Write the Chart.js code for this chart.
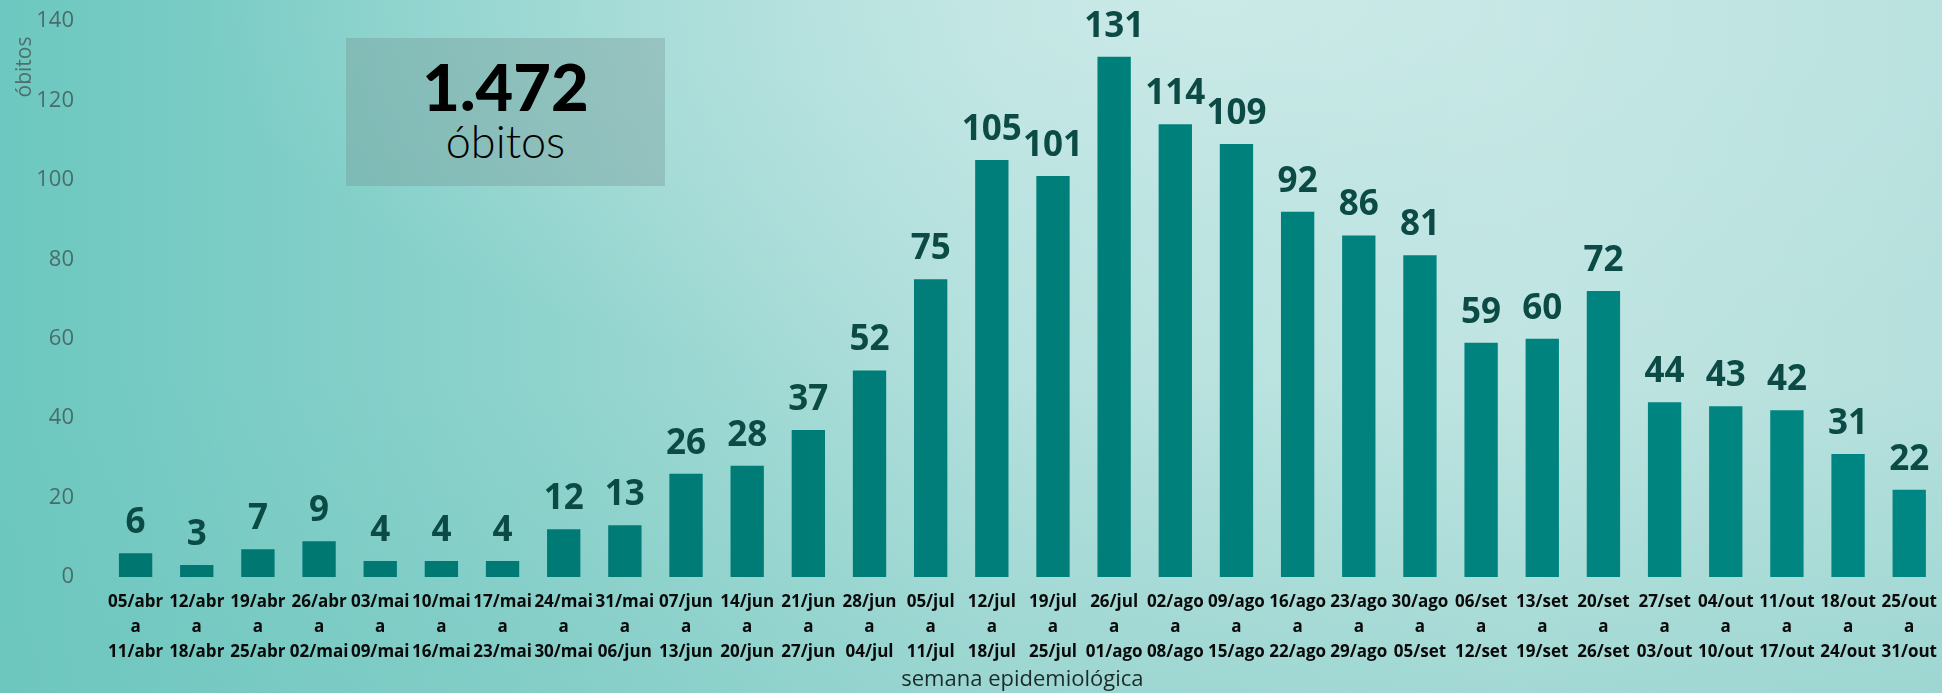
<!DOCTYPE html>
<html>
<head>
<meta charset="utf-8">
<script src="https://cdn.jsdelivr.net/npm/chart.js@4.4.1/dist/chart.umd.min.js"></script>
<style>
  html, body { margin: 0; padding: 0; }
  body {
    width: 1942px; height: 693px; overflow: hidden; position: relative;
    background:
      radial-gradient(ellipse 1000px 420px at 62% 0%, rgba(210,237,235,0.7) 0%, rgba(200,233,231,0.4) 50%, rgba(200,233,231,0) 100%),
      linear-gradient(180deg, rgba(120,200,192,0) 55%, rgba(110,196,188,0.35) 100%),
      linear-gradient(90deg, #6cc8c0 0%, #8fd3cd 28%, #b4e0dd 52%, #bfe4e1 78%, #b6e0dd 100%);
  }
  #wrap { position: absolute; left: 0; top: 0; width: 1942px; height: 693px; }
  #total {
    position: absolute; left: 346px; top: 38px; width: 319px; height: 148px;
    background: rgba(110, 135, 135, 0.3);
    text-align: center; color: #000;
  }
  #total .num { font-family: Lato, "Open Sans", sans-serif; font-weight: 900; font-size: 65px; line-height: 64px; margin-top: 16px; }
  #total .lbl { font-family: Lato, "Open Sans", sans-serif; font-weight: 300; font-size: 45px; line-height: 50px; margin-top: -2px; }
</style>
</head>
<body>
<div id="total"><div class="num">1.472</div><div class="lbl">óbitos</div></div>
<div id="wrap"><canvas id="grafico"></canvas></div>
<script>
// semanas epidemiológicas (inicio / fim)
const inicioSemana = ["05/abr","12/abr","19/abr","26/abr","03/mai","10/mai","17/mai","24/mai","31/mai","07/jun",
  "14/jun","21/jun","28/jun","05/jul","12/jul","19/jul","26/jul","02/ago","09/ago","16/ago",
  "23/ago","30/ago","06/set","13/set","20/set","27/set","04/out","11/out","18/out","25/out"];
const fimSemana = ["11/abr","18/abr","25/abr","02/mai","09/mai","16/mai","23/mai","30/mai","06/jun","13/jun",
  "20/jun","27/jun","04/jul","11/jul","18/jul","25/jul","01/ago","08/ago","15/ago","22/ago",
  "29/ago","05/set","12/set","19/set","26/set","03/out","10/out","17/out","24/out","31/out"];
const obitos = [6,3,7,9,4,4,4,12,13,26,28,37,52,75,105,101,131,114,109,92,86,81,59,60,72,44,43,42,31,22];
const ticksY = [0,20,40,60,80,100,120,140];

const rotulos = inicioSemana.map((ini, i) => [ini, "a", fimSemana[i]]);

// valores em cima das barras
const pluginValores = {
  id: "valores",
  afterDatasetsDraw(chart) {
    const ctx = chart.ctx;
    const meta = chart.getDatasetMeta(0);
    ctx.save();
    ctx.font = "bold 35px 'Open Sans'";
    ctx.fillStyle = "#0b4a45";
    ctx.textAlign = "center";
    ctx.textBaseline = "alphabetic";
    meta.data.forEach((barra, i) => {
      ctx.fillText(String(obitos[i]), barra.x, barra.y - 20);
    });
    ctx.restore();
  }
};

// titulos dos eixos
const pluginTitulos = {
  id: "titulos",
  afterDraw(chart) {
    const ctx = chart.ctx;
    const area = chart.chartArea;
    ctx.save();
    ctx.fillStyle = "#1c2a29";
    ctx.font = "22px 'Open Sans'";
    ctx.textAlign = "center";
    ctx.textBaseline = "middle";
    ctx.fillText("semana epidemiológica", (area.left + area.right) / 2, 680);
    ctx.fillStyle = "#4d706c";
    ctx.font = "21px 'Open Sans'";
    ctx.translate(25, 67);
    ctx.rotate(-Math.PI / 2);
    ctx.fillText("óbitos", 0, 0);
    ctx.restore();
  }
};

const ctx = document.getElementById("grafico").getContext("2d");

const grafico = new Chart(ctx, {
  type: "bar",
  data: {
    labels: rotulos,
    datasets: [{
      label: "óbitos",
      data: obitos,
      backgroundColor: (c) => {
        const area = c.chart.chartArea;
        if (!area) return "#007f79";
        const g = c.chart.ctx.createLinearGradient(area.left, 0, area.right, 0);
        g.addColorStop(0, "#007670");
        g.addColorStop(1, "#008783");
        return g;
      },
      categoryPercentage: 1,
      barPercentage: 0.545
    }]
  },
  options: {
    responsive: true,
    maintainAspectRatio: false,
    animation: false,
    layout: { padding: { top: 21, right: 0, left: 0, bottom: 0 } },
    plugins: {
      legend: { display: false },
      tooltip: { enabled: false }
    },
    scales: {
      x: {
        grid: { display: false },
        border: { display: false },
        afterFit: (s) => { s.height = 116; },
        ticks: {
          color: "#0a0a0a",
          font: { family: "'Open Sans'", weight: "bold", size: 17, lineHeight: 1.46 },
          padding: 5,
          maxRotation: 0,
          autoSkip: false
        }
      },
      y: {
        min: 0,
        max: 140,
        afterFit: (s) => { s.width = 105; s.paddingTop = 0; s.paddingBottom = 0; },
        afterBuildTicks: (s) => { s.ticks = ticksY.map(v => ({ value: v })); },
        grid: { display: false },
        border: { display: false },
        ticks: {
          color: "#4a6d69",
          font: { family: "'Open Sans'", size: 22 },
          padding: 23
        }
      }
    }
  },
  plugins: [pluginValores, pluginTitulos]
});
</script>
</body>
</html>
